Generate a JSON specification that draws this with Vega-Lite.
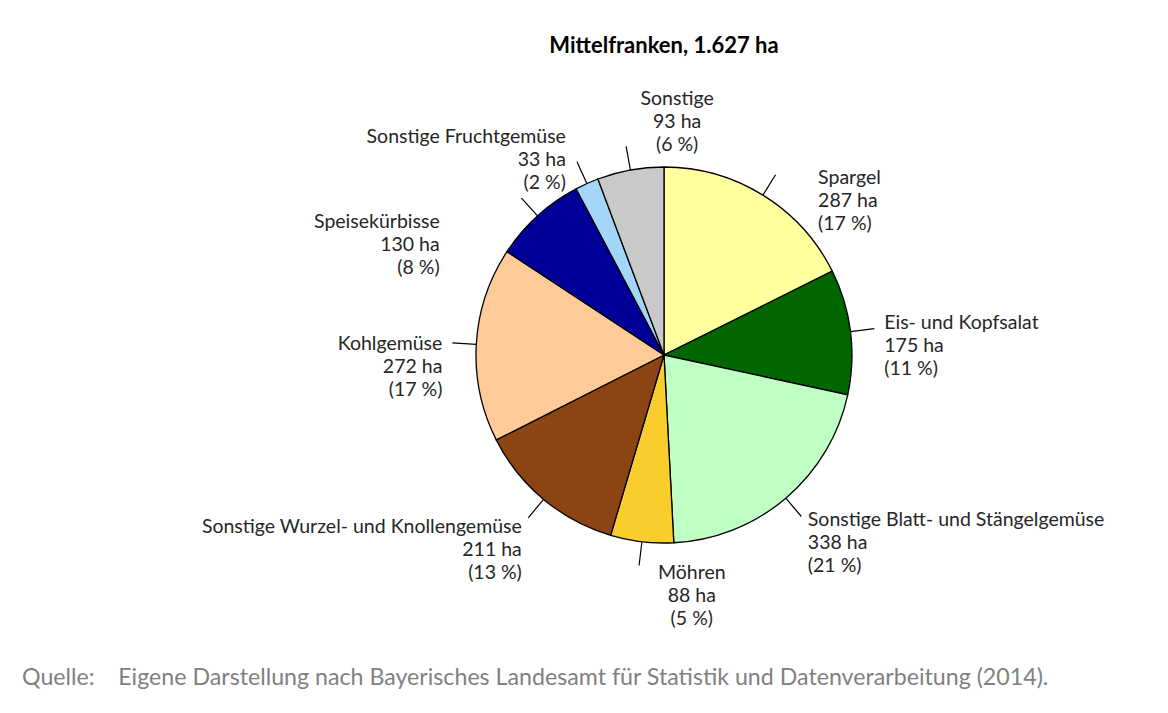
{
  "$schema": "https://vega.github.io/schema/vega-lite/v6.json",
  "padding": {"left": 22, "top": 35, "right": 0, "bottom": 3},
  "title": {
    "text": "Quelle:\u00a0\u00a0\u00a0\u00a0Eigene Darstellung nach Bayerisches Landesamt für Statistik und Datenverarbeitung (2014).",
    "orient": "bottom",
    "anchor": "start",
    "frame": "group",
    "dx": -138,
    "offset": 16,
    "font": "Lato",
    "fontSize": 23.2,
    "fontWeight": "normal",
    "color": "#808080"
  },
  "vconcat": [
    {
      "width": 1008,
      "height": 592,
      "title": {
        "text": "Mittelfranken, 1.627 ha",
        "anchor": "middle",
        "frame": "group",
        "offset": 1,
        "font": "Lato",
        "fontSize": 22,
        "fontWeight": "bold",
        "color": "#000000"
      },
      "data": {
        "values": [
          {"idx": 1, "name": "Spargel", "ha": 287, "pct": 17},
          {"idx": 2, "name": "Eis- und Kopfsalat", "ha": 175, "pct": 11},
          {"idx": 3, "name": "Sonstige Blatt- und Stängelgemüse", "ha": 338, "pct": 21},
          {"idx": 4, "name": "Möhren", "ha": 88, "pct": 5},
          {"idx": 5, "name": "Sonstige Wurzel- und Knollengemüse", "ha": 211, "pct": 13},
          {"idx": 6, "name": "Kohlgemüse", "ha": 272, "pct": 17},
          {"idx": 7, "name": "Speisekürbisse", "ha": 130, "pct": 8},
          {"idx": 8, "name": "Sonstige Fruchtgemüse", "ha": 33, "pct": 2},
          {"idx": 9, "name": "Sonstige", "ha": 93, "pct": 6}
        ]
      },
      "transform": [
        {"joinaggregate": [{"op": "sum", "field": "ha", "as": "total"}]},
        {"window": [{"op": "sum", "field": "ha", "as": "cum"}], "sort": [{"field": "idx"}], "frame": [null, 0]},
        {"calculate": "datum.cum - datum.ha / 2", "as": "mid"},
        {"calculate": "datum.mid / datum.total", "as": "frac"},
        {"calculate": "[datum.name, datum.ha + ' ha', '(' + datum.pct + ' %)']", "as": "label"}
      ],
      "layer": [
        {
          "mark": {"type": "arc", "outerRadius": 188, "stroke": "#000000", "strokeWidth": 1.3},
          "encoding": {
            "theta": {"field": "ha", "type": "quantitative", "stack": true},
            "order": {"field": "idx", "type": "quantitative"},
            "color": {
              "field": "name",
              "type": "nominal",
              "sort": null,
              "legend": null,
              "scale": {
                "domain": ["Spargel", "Eis- und Kopfsalat", "Sonstige Blatt- und Stängelgemüse", "Möhren", "Sonstige Wurzel- und Knollengemüse", "Kohlgemüse", "Speisekürbisse", "Sonstige Fruchtgemüse", "Sonstige"],
                "range": ["#FFFF9E", "#006600", "#BFFFC4", "#F9CD2C", "#8B4412", "#FFCC99", "#000099", "#A4D6FA", "#C9C9C9"]
              }
            }
          }
        },
        {
          "mark": {"type": "arc", "radius": 188, "radius2": 212, "stroke": "#000000", "strokeWidth": 1.2, "fill": null},
          "encoding": {
            "theta": {"field": "mid", "type": "quantitative", "stack": null},
            "theta2": {"field": "mid"}
          }
        },
        {
          "transform": [{"filter": "datum.frac < 0.15"}],
          "mark": {"type": "text", "radius": 232, "dx": 32, "dy": 20, "align": "left", "baseline": "middle", "font": "Lato", "fontSize": 19.5, "lineHeight": 23, "color": "#262626"},
          "encoding": {
            "theta": {"field": "mid", "type": "quantitative", "stack": null},
            "text": {"field": "label"}
          }
        },
        {
          "transform": [{"filter": "datum.frac >= 0.15 && datum.frac < 0.46"}],
          "mark": {"type": "text", "radius": 222, "dy": -4, "align": "left", "baseline": "middle", "font": "Lato", "fontSize": 19.5, "lineHeight": 23, "color": "#262626"},
          "encoding": {
            "theta": {"field": "mid", "type": "quantitative", "stack": null},
            "text": {"field": "label"}
          }
        },
        {
          "transform": [{"filter": "datum.frac >= 0.95 || (datum.frac >= 0.46 && datum.frac < 0.54)"}],
          "mark": {"type": "text", "radius": 240, "dx": 56, "dy": -20, "align": "center", "baseline": "middle", "font": "Lato", "fontSize": 19.5, "lineHeight": 23, "color": "#262626"},
          "encoding": {
            "theta": {"field": "mid", "type": "quantitative", "stack": null},
            "text": {"field": "label"}
          }
        },
        {
          "transform": [{"filter": "datum.frac >= 0.54 && datum.frac < 0.82"}],
          "mark": {"type": "text", "radius": 222, "dy": 2, "align": "right", "baseline": "middle", "font": "Lato", "fontSize": 19.5, "lineHeight": 23, "color": "#262626"},
          "encoding": {
            "theta": {"field": "mid", "type": "quantitative", "stack": null},
            "text": {"field": "label"}
          }
        },
        {
          "transform": [{"filter": "datum.frac >= 0.82 && datum.frac < 0.91"}],
          "mark": {"type": "text", "radius": 222, "dx": -75, "dy": 31, "align": "right", "baseline": "middle", "font": "Lato", "fontSize": 19.5, "lineHeight": 23, "color": "#262626"},
          "encoding": {
            "theta": {"field": "mid", "type": "quantitative", "stack": null},
            "text": {"field": "label"}
          }
        },
        {
          "transform": [{"filter": "datum.frac >= 0.91 && datum.frac < 0.95"}],
          "mark": {"type": "text", "radius": 222, "dx": -7, "dy": -16, "align": "right", "baseline": "middle", "font": "Lato", "fontSize": 19.5, "lineHeight": 23, "color": "#262626"},
          "encoding": {
            "theta": {"field": "mid", "type": "quantitative", "stack": null},
            "text": {"field": "label"}
          }
        }
      ]
    }
  ],
  "config": {"view": {"stroke": null}}
}
